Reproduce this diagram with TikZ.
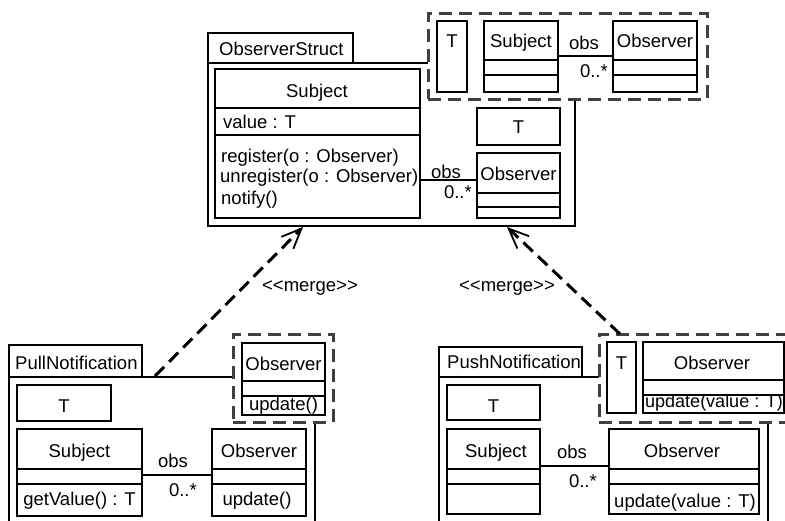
\documentclass[tikz,border=0pt]{standalone}
\usepackage{fontspec}
\setmainfont{Liberation Sans}
\usetikzlibrary{arrows.meta,fit}
\begin{document}
\begin{tikzpicture}[x=1pt,y=-1pt,
  box/.style={draw,line width=1.5pt,inner sep=0pt,outer sep=0pt,fill=white},
  pkg/.style={draw,line width=1.5pt,inner sep=0pt,outer sep=0pt},
  wrap/.style={draw=black!75,line width=3pt,dash pattern=on 13pt off 7pt,fill=white,inner sep=0pt,outer sep=0pt},
  merge/.style={line width=3pt,dash pattern=on 13pt off 7pt,-{Straight Barb[length=20pt,width=17pt,line width=1.8pt]}},
  div/.style={line width=1.5pt},
  txt/.style={inner sep=0pt,anchor=base,font=\fontsize{18.5}{22}\selectfont},
  ltxt/.style={txt,anchor=base west},
  rtxt/.style={txt,anchor=base east}
]
\useasboundingbox (0,0) rectangle (785,520);
\clip (0,0) rectangle (785,520);

% ===== ObserverStruct =====
\node[pkg,fit={(208,33)(353,63)}] (ostab) {};
\node[pkg,fit={(208,63)(575,226)}] (osbody) {};
\node[ltxt] (ostabt) at (219,55) {ObserverStruct};

\node[box,fit={(215,69)(420,218)}] (s1) {};
\draw[div] (s1.west |- 0,108) -- (s1.east |- 0,108);
\draw[div] (s1.west |- 0,135) -- (s1.east |- 0,135);
\node[txt] (s1t) at (317,97) {Subject};
\node[ltxt] (s1a) at (223,128) {value : T};
\node[ltxt] (s1m1) at (221,162) {register(o : Observer)};
\node[ltxt] (s1m2) at (220,182) {unregister(o : Observer)};
\node[ltxt] (s1m3) at (221,204) {notify()};

\node[box,fit={(477,108)(560,145)}] (t1) {};
\node[txt] (t1t) at (518.5,133) {T};
\node[box,fit={(477,153)(560,218)}] (o1) {};
\draw[div] (o1.west |- 0,193) -- (o1.east |- 0,193);
\draw[div] (o1.west |- 0,207) -- (o1.east |- 0,207);
\node[txt] (o1t) at (518.5,180) {Observer};
\draw[div] (s1.east |- 0,180) -- (o1.west |- 0,180);
\node[txt] (a1obs) at (446,178) {obs};
\node[rtxt] (a1m) at (472,198) {0..*};

% wrapper top
\node[wrap,fit={(428,13)(707,99)}] (w1) {};
\node[box,fit={(437,21)(467,92)}] (t2) {};
\node[txt] (t2t) at (452,47) {T};
\node[box,fit={(484,21)(558,92)}] (s2) {};
\draw[div] (s2.west |- 0,60) -- (s2.east |- 0,60);
\draw[div] (s2.west |- 0,75) -- (s2.east |- 0,75);
\node[txt] (s2t) at (521,47) {Subject};
\node[box,fit={(613,21)(697,92)}] (o2) {};
\draw[div] (o2.west |- 0,60) -- (o2.east |- 0,60);
\draw[div] (o2.west |- 0,75) -- (o2.east |- 0,75);
\node[txt] (o2t) at (655,47) {Observer};
\draw[div] (s2.east |- 0,56) -- (o2.west |- 0,56);
\node[txt] (a2obs) at (584,49) {obs};
\node[rtxt] (a2m) at (608,77) {0..*};

% ===== PullNotification =====
\node[pkg,fit={(9,345)(142,377)}] (ptab) {};
\node[pkg,fit={(9,377)(315,545)}] (pbody) {};
\node[ltxt] (ptabt) at (15,369) {PullNotification};

\node[box,fit={(17,385)(111,421)}] (t3) {};
\node[txt] (t3t) at (64,412) {T};
\node[box,fit={(17,429)(142,516)}] (s3) {};
\draw[div] (s3.west |- 0,469) -- (s3.east |- 0,469);
\draw[div] (s3.west |- 0,484) -- (s3.east |- 0,484);
\node[txt] (s3t) at (79.5,457) {Subject};
\node[txt] (s3m) at (79.5,505) {getValue() : T};
\node[box,fit={(212,429)(306,516)}] (o3) {};
\draw[div] (o3.west |- 0,469) -- (o3.east |- 0,469);
\draw[div] (o3.west |- 0,484) -- (o3.east |- 0,484);
\node[txt] (o3t) at (259,457) {Observer};
\node[txt] (o3m) at (257,505) {update()};
\draw[div] (s3.east |- 0,475) -- (o3.west |- 0,475);
\node[txt] (a3obs) at (173,467) {obs};
\node[rtxt] (a3m) at (197,496) {0..*};

\node[wrap,fit={(233,334)(333,422)}] (w2) {};
\node[box,fit={(242,343)(325,415)}] (o4) {};
\draw[div] (o4.west |- 0,381) -- (o4.east |- 0,381);
\draw[div] (o4.west |- 0,396) -- (o4.east |- 0,396);
\node[txt] (o4t) at (283.5,370) {Observer};
\node[txt] (o4m) at (283.5,410) {update()};

% ===== PushNotification =====
\node[pkg,fit={(439,347)(582,377)}] (qtab) {};
\node[pkg,fit={(439,377)(768,545)}] (qbody) {};
\node[ltxt] (qtabt) at (447,368) {PushNotification};

\node[box,fit={(447,385)(540,420)}] (t5) {};
\node[txt] (t5t) at (493.5,412) {T};
\node[box,fit={(447,429)(540,514)}] (s5) {};
\draw[div] (s5.west |- 0,469) -- (s5.east |- 0,469);
\draw[div] (s5.west |- 0,484) -- (s5.east |- 0,484);
\node[txt] (s5t) at (496,457) {Subject};
\node[box,fit={(609,429)(759,514)}] (o5) {};
\draw[div] (o5.west |- 0,469) -- (o5.east |- 0,469);
\draw[div] (o5.west |- 0,484) -- (o5.east |- 0,484);
\node[txt] (o5t) at (682,457) {Observer};
\node[txt] (o5m) at (685,507) {update(value : T)};
\draw[div] (s5.east |- 0,466) -- (o5.west |- 0,466);
\node[txt] (a5obs) at (572,458) {obs};
\node[rtxt] (a5m) at (597,487) {0..*};

\node[wrap,fit={(599,334)(800,422)}] (w3) {};
\node[box,fit={(607,342)(636,413)}] (t6) {};
\node[txt] (t6t) at (621.5,369) {T};
\node[box,fit={(643,342)(784,413)}] (o6) {};
\draw[div] (o6.west |- 0,380) -- (o6.east |- 0,380);
\draw[div] (o6.west |- 0,395) -- (o6.east |- 0,395);
\node[txt] (o6t) at (712,369) {Observer};
\node[ltxt,font=\fontsize{18}{22}\selectfont] (o6m) at (645,407) {update(value : T)};

% ===== merge dependencies =====
\coordinate (m1a) at (155,376);
\coordinate (m1b) at (303,227);
\coordinate (m2a) at (620,334);
\coordinate (m2b) at (507,227);
\draw[merge] (m1a) -- (m1b);
\draw[merge] (m2a) -- (m2b);
\node[txt] (mg1) at (310,291) {<{}<merge>{}>};
\node[txt] (mg2) at (507,291) {<{}<merge>{}>};
\end{tikzpicture}
\end{document}
